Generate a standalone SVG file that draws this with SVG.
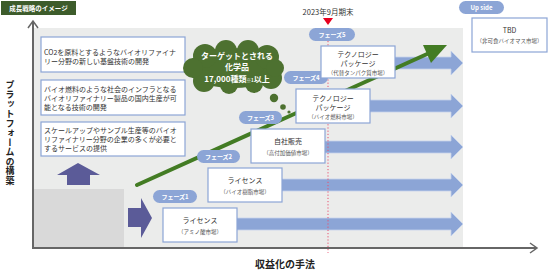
<svg xmlns="http://www.w3.org/2000/svg" width="549" height="271" viewBox="0 0 549 271">
<style>
.jp{font-family:"Noto Sans CJK JP","Noto Sans",sans-serif}
.box{fill:#fff;stroke:#8ca5d6;stroke-width:1.2}
.lbox{fill:#fff;stroke:#8ca5d6;stroke-width:1.2}
.ltxt{font-size:7px;fill:#333}
.t1{font-size:7px;fill:#333;text-anchor:middle}
.t2{font-size:5.5px;fill:#555;text-anchor:middle}
.pill{fill:#8ca5d6}
.ptxt{font-size:6px;fill:#fff;font-weight:bold;text-anchor:middle}
.harr{fill:#8ca5d6;stroke:#c5d3ec;stroke-width:0.8}
.cloud{fill:#4d7130}
</style>
<!-- background -->
<rect x="34" y="28" width="429" height="219" fill="#ebeceb"/>
<rect x="34" y="189" width="90" height="58" fill="#d9d9d9"/>

<g id="title">
<rect x="1" y="1" width="75" height="14" fill="#3d5c2b"/>
<text class="jp" x="38.5" y="10.6" font-size="6.5" font-weight="bold" fill="#fff" text-anchor="middle">成長戦略のイメージ</text>
</g>

<g id="connectors">
<!-- axes -->
<line x1="33" y1="248" x2="33" y2="22" stroke="#666" stroke-width="2"/>
<polyline points="28,28 33,21 38,28" fill="none" stroke="#666" stroke-width="1.5"/>
<line x1="32" y1="248" x2="536" y2="248" stroke="#666" stroke-width="2"/>
<polyline points="530,243 537,248 530,253" fill="none" stroke="#666" stroke-width="1.5"/>
<!-- horizontal blue arrows -->
<path class="harr" d="M358,57 H451 V51 L463,63 L451,75 V69 H358 Z"/>
<path class="harr" d="M333,100 H451 V94 L463,106 L451,118 V112 H333 Z"/>
<path class="harr" d="M288,141 H451 V135 L463,147 L451,159 V153 H288 Z"/>
<path class="harr" d="M245,179 H451 V173 L463,185 L451,197 V191 H245 Z"/>
<path class="harr" d="M200,218 H451 V212 L463,224 L451,236 V230 H200 Z"/>
<!-- green growth arrow -->
<line x1="137" y1="185" x2="436" y2="50" stroke="#437c24" stroke-width="4" stroke-linecap="round"/>
<polygon points="447,45 423,45 431,63" fill="#437c24"/>
<!-- dark arrows -->
<polygon points="78,163 100,175 90,175 90,185 67,185 67,175 57,175" fill="#5b5b98"/>
<polygon points="128,208 141,208 141,198 152,218 141,238 141,227 128,227" fill="#5b5b98"/>
<!-- dotted date line -->
<line x1="328" y1="41" x2="328" y2="253" stroke="#e8506e" stroke-width="1" stroke-dasharray="1.2,2"/>
<polygon points="323,18 333,18 328,25" fill="#e8001e"/>
</g>

<g id="axis-labels">
<text class="jp" x="10" y="80" font-size="9" font-weight="bold" fill="#222" style="writing-mode:vertical-rl" textLength="105" lengthAdjust="spacingAndGlyphs">プラットフォームの構築</text>
<text class="jp" x="285" y="268" font-size="10" font-weight="bold" fill="#222" text-anchor="middle">収益化の手法</text>
<text class="jp" x="328" y="15" font-size="7.5" fill="#333" text-anchor="middle">2023年9月期末</text>
</g>

<g id="left-box-1">
<rect class="lbox" x="41" y="37" width="144" height="35"/>
<text class="jp ltxt" x="44" y="55">CO2を原料とするようなバイオリファイナ</text>
<text class="jp ltxt" x="44" y="64">リー分野の新しい基盤技術の開発</text>
</g>
<g id="left-box-2">
<rect class="lbox" x="41" y="80" width="144" height="35"/>
<text class="jp ltxt" x="44" y="91.5">バイオ燃料のような社会のインフラとなる</text>
<text class="jp ltxt" x="44" y="100.5">バイオリファイナリー製品の国内生産が可</text>
<text class="jp ltxt" x="44" y="109.5">能となる技術の開発</text>
</g>
<g id="left-box-3">
<rect class="lbox" x="41" y="122" width="144" height="34"/>
<text class="jp ltxt" x="44" y="133">スケールアップやサンプル生産等のバイオ</text>
<text class="jp ltxt" x="44" y="142">リファイナリー分野の企業の多くが必要と</text>
<text class="jp ltxt" x="44" y="151">するサービスの提供</text>
</g>

<g id="cloud">
<ellipse class="cloud" cx="233" cy="68" rx="46" ry="20"/>
<circle class="cloud" cx="205" cy="56" r="12"/>
<circle class="cloud" cx="226" cy="51" r="11"/>
<circle class="cloud" cx="248" cy="51" r="11"/>
<circle class="cloud" cx="267" cy="57" r="12"/>
<circle class="cloud" cx="204" cy="81" r="11"/>
<circle class="cloud" cx="229" cy="85" r="9"/>
<circle class="cloud" cx="254" cy="84" r="9"/>
<circle class="cloud" cx="271" cy="78" r="11"/>
<circle class="cloud" cx="193" cy="68" r="10"/>
<circle class="cloud" cx="275" cy="68" r="9"/>
<circle class="cloud" cx="274" cy="98" r="4.2"/>
<circle class="cloud" cx="283" cy="107" r="2.8"/>
<circle class="cloud" cx="289" cy="112" r="1.6"/>
<text class="jp" x="237" y="58.5" font-size="8" font-weight="bold" fill="#fff" text-anchor="middle">ターゲットとされる</text>
<text class="jp" x="237" y="70" font-size="8" font-weight="bold" fill="#fff" text-anchor="middle">化学品</text>
<text class="jp" x="237" y="81.5" font-size="8" font-weight="bold" fill="#fff" text-anchor="middle">17,000種類<tspan font-size="4.5">※1</tspan>以上</text>
</g>

<g id="phase-5"><rect class="pill" x="309" y="28" width="46" height="13" rx="6.5"/><text class="jp ptxt" x="332" y="37">フェーズ5</text></g>
<g id="phase-4"><rect class="pill" x="284" y="71" width="44" height="13" rx="6.5"/><text class="jp ptxt" x="306" y="80">フェーズ4</text></g>
<g id="phase-3"><rect class="pill" x="239" y="111" width="43" height="13" rx="6.5"/><text class="jp ptxt" x="260.5" y="120">フェーズ3</text></g>
<g id="phase-2"><rect class="pill" x="197" y="150" width="43" height="13" rx="6.5"/><text class="jp ptxt" x="218.5" y="159">フェーズ2</text></g>
<g id="phase-1"><rect class="pill" x="153" y="190" width="44" height="13" rx="6.5"/><text class="jp ptxt" x="175" y="199">フェーズ1</text></g>
<g id="upside"><rect class="pill" x="459" y="1" width="45" height="13" rx="6.5"/><text class="jp ptxt" x="481.5" y="10" font-family="Noto Sans, sans-serif">Up side</text></g>

<g id="box-amino">
<rect class="box" x="163" y="208" width="74" height="34"/>
<text class="jp t1" x="200" y="223">ライセンス</text>
<text class="jp t2" x="200" y="234">（アミノ酸市場）</text>
</g>
<g id="box-resin">
<rect class="box" x="208" y="168" width="74" height="34"/>
<text class="jp t1" x="245" y="183">ライセンス</text>
<text class="jp t2" x="245" y="194">（バイオ樹脂市場）</text>
</g>
<g id="box-own">
<rect class="box" x="251" y="129" width="74" height="34"/>
<text class="jp t1" x="288" y="144">自社販売</text>
<text class="jp t2" x="288" y="155">（高付加価値市場）</text>
</g>
<g id="box-fuel">
<rect class="box" x="296" y="89" width="74" height="34"/>
<text class="jp t1" x="333" y="100.5">テクノロジー</text>
<text class="jp t1" x="333" y="110">パッケージ</text>
<text class="jp t2" x="333" y="119">（バイオ燃料市場）</text>
</g>
<g id="box-protein">
<rect class="box" x="321" y="46" width="74" height="32"/>
<text class="jp t1" x="358" y="56.5">テクノロジー</text>
<text class="jp t1" x="358" y="66">パッケージ</text>
<text class="jp t2" x="358" y="75">（代替タンパク質市場）</text>
</g>
<g id="box-tbd">
<rect class="box" x="472" y="18" width="75" height="34"/>
<text class="jp t1" x="509.5" y="32.5">TBD</text>
<text class="jp t2" x="509.5" y="43">（非可食バイオマス市場）</text>
</g>
</svg>
